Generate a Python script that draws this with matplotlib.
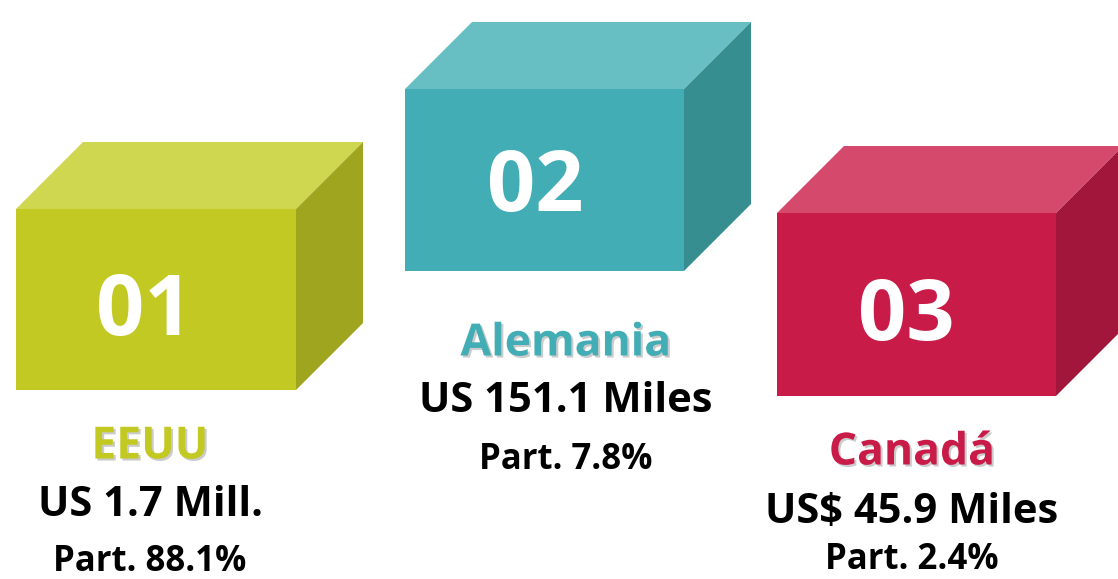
import matplotlib
matplotlib.use('Agg')
import matplotlib.pyplot as plt
import matplotlib.patheffects as pe
from matplotlib.patches import Polygon

plt.rcParams['font.family'] = ['Open Sans', 'DejaVu Sans']

# data
ranks = ['01', '02', '03']
countries = ['EEUU', 'Alemania', 'Canadá']
amounts = ['US 1.7 Mill.', 'US 151.1 Miles', 'US$ 45.9 Miles']
shares = ['Part. 88.1%', 'Part. 7.8%', 'Part. 2.4%']

# styles: (front, top, side)
palette = [('#C3C923', '#CFD64F', '#9FA51E'),
           ('#43ADB5', '#68BFC3', '#378E90'),
           ('#C91B48', '#D4496C', '#A3163C')]

# layout in pixels: front face left, top, width, height; depth offset
boxes = [(16, 209, 280, 181), (405, 89, 279, 182), (777, 213, 279, 183)]
depth = 67
rank_xy = [(144, 313), (535, 189), (906, 318)]
label_x = [150, 566, 912]
label_y = [(447, 505, 562), (344, 402, 460), (453, 512, 560)]

fig = plt.figure(figsize=(11.18, 5.79), dpi=100)
ax = fig.add_axes([0, 0, 1, 1])
ax.set_xlim(0, 1118)
ax.set_ylim(579, 0)
ax.axis('off')

shadow = [pe.withSimplePatchShadow(offset=(1.5, -1.5), shadow_rgbFace='#999999', alpha=0.5)]

for i, (x, y, w, h) in enumerate(boxes):
    front, top, side = palette[i]
    ax.add_patch(Polygon([(x, y), (x + w, y), (x + w, y + h), (x, y + h)],
                         closed=True, facecolor=front, edgecolor='none'))
    ax.add_patch(Polygon([(x, y), (x + depth, y - depth), (x + w + depth, y - depth), (x + w, y)],
                         closed=True, facecolor=top, edgecolor='none'))
    ax.add_patch(Polygon([(x + w, y), (x + w + depth, y - depth), (x + w + depth, y + h - depth), (x + w, y + h)],
                         closed=True, facecolor=side, edgecolor='none'))
    ax.text(rank_xy[i][0], rank_xy[i][1], ranks[i], color='white', fontsize=61,
            fontweight='bold', ha='center', va='center')
    lx = label_x[i]
    ly = label_y[i]
    ax.text(lx, ly[0], countries[i], color=front, fontsize=32, fontweight='bold',
            ha='center', va='center', path_effects=shadow)
    ax.text(lx, ly[1], amounts[i], color='black', fontsize=30, fontweight='bold',
            ha='center', va='center')
    ax.text(lx, ly[2], shares[i], color='black', fontsize=25, fontweight='bold',
            ha='center', va='center')

fig.savefig('out.png', dpi=100)
